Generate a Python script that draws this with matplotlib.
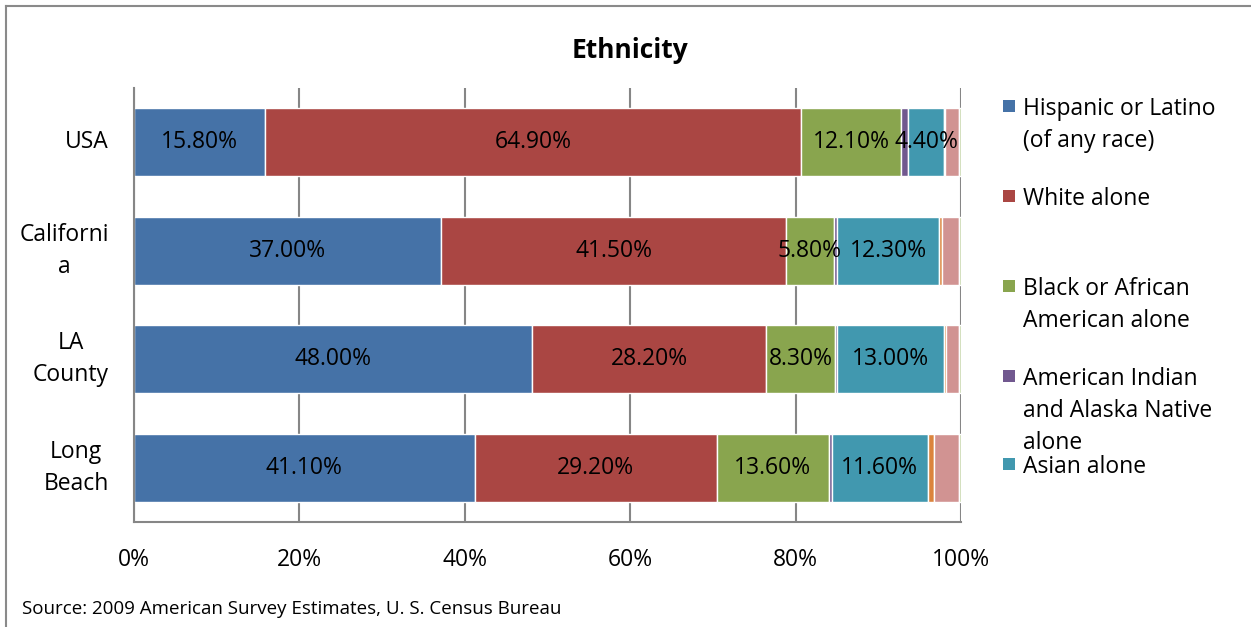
import numpy as np
import matplotlib
matplotlib.use("Agg")
import matplotlib.pyplot as plt
from matplotlib.lines import Line2D
from matplotlib.patches import Rectangle

plt.rcParams['font.family'] = ['Open Sans', 'DejaVu Sans']

places = ["USA", "Californi\na", "LA\nCounty", "Long\nBeach"]
hispanic = [15.8, 37.0, 48.0, 41.1]
white = [64.9, 41.5, 28.2, 29.2]
black = [12.1, 5.8, 8.3, 13.6]
amer_indian = [0.8, 0.4, 0.2, 0.3]
asian = [4.4, 12.3, 13.0, 11.6]
hawaiian = [0.1, 0.3, 0.2, 0.8]
two_or_more = [1.7, 2.1, 1.6, 3.0]
other_race = [0.2, 0.2, 0.2, 0.2]

series = [
    ("Hispanic or Latino\n(of any race)", hispanic, "#4572A7", True),
    ("White alone", white, "#AA4643", True),
    ("Black or African\nAmerican alone", black, "#89A54E", True),
    ("American Indian\nand Alaska Native\nalone", amer_indian, "#71588F", False),
    ("Asian alone", asian, "#4198AF", True),
    ("Native Hawaiian and Other\nPacific Islander alone", hawaiian, "#DB843D", False),
    ("Two or more races", two_or_more, "#D19392", False),
    ("Some other race alone", other_race, "#B9CD96", False),
]
xticks = [0, 20, 40, 60, 80, 100]

W, H = 1251, 627
fig = plt.figure(figsize=(W / 100, H / 100), dpi=100)
ax = fig.add_axes([134 / W, 1 - 522 / H, (961 - 134) / W, (522 - 88) / H])

fs = 16.5
totals = np.sum([s[1] for s in series], axis=0)
y = np.arange(len(places))
left = np.zeros(len(places))
for name, vals, col, lab in series:
    w = np.array(vals) / totals * 100
    ax.barh(y, w, left=left, height=0.63, color=col, edgecolor="white",
            linewidth=1.0, zorder=2)
    if lab:
        for yi, (l, wi, v) in enumerate(zip(left, w, vals)):
            ax.text(l + wi / 2, yi, f"{v:.2f}%", ha="center", va="center",
                    fontsize=fs, color="black", zorder=3)
    left += w

ax.set_xlim(0, 100)
ax.set_ylim(len(places) - 0.5, -0.5)
ax.set_xticks(xticks)
ax.set_xticklabels([f"{t}%" for t in xticks])
ax.set_yticks(y)
ax.set_yticklabels(places)
plt.setp(ax.get_yticklabels(), multialignment="center", linespacing=1.45, va="center")
ax.tick_params(axis="x", length=0, pad=19, labelsize=fs)
ax.tick_params(axis="y", length=0, pad=18, labelsize=fs)
ax.grid(axis="x", color="#868686", linewidth=1.5, zorder=0)
ax.set_axisbelow(True)
for s in ["top", "right"]:
    ax.spines[s].set_visible(False)
for s in ["left", "bottom"]:
    ax.spines[s].set_color("#868686")
    ax.spines[s].set_linewidth(1.5)

fig.text(630 / W, 1 - 50 / H, "Ethnicity", ha="center", va="center",
         fontsize=19, fontweight="bold")
fig.text(22 / W, 1 - 609 / H, "Source: 2009 American Survey Estimates, U. S. Census Bureau",
         ha="left", va="center", fontsize=13.5)

# legend (Excel shows only the first five entries)
leg_y = [106, 196, 286, 376, 464]
for (name, vals, col, lab), ly in zip(series[:5], leg_y):
    fig.add_artist(Rectangle((1003 / W, 1 - (ly + 6) / H), 12 / W, 12 / H,
                             transform=fig.transFigure, facecolor=col, edgecolor="none"))
    for i, line in enumerate(name.split("\n")):
        fig.text(1023 / W, 1 - (ly + 3 + 32 * i) / H, line, ha="left", va="center",
                 fontsize=fs)

# outer chart border
fig.add_artist(Line2D([6 / W, 6 / W], [0, 1 - 6 / H], transform=fig.transFigure,
                      color="#8a8a8a", linewidth=1.5))
fig.add_artist(Line2D([6 / W, 1], [1 - 6 / H, 1 - 6 / H], transform=fig.transFigure,
                      color="#8a8a8a", linewidth=1.5))

fig.savefig("out.png", dpi=100)
